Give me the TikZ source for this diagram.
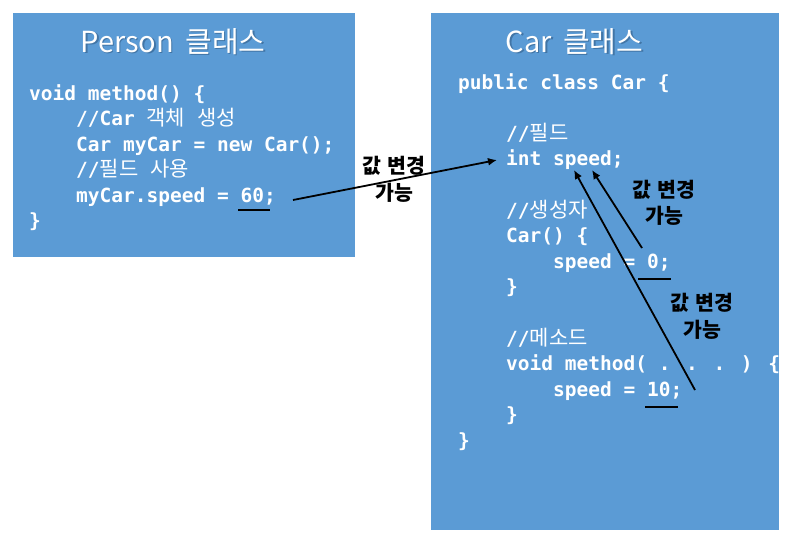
\documentclass[tikz,border=0pt]{standalone}
\usepackage{fontspec}
\usetikzlibrary{arrows.meta}
\newfontfamily\cd{DejaVu Sans Mono}
\newfontfamily\kr{Noto Sans CJK KR}
\newcommand\K[1]{{\kr\mdseries\fontsize{21}{22}\selectfont #1}}
\definecolor{boxblue}{RGB}{91,155,213}
\definecolor{shadowblue}{RGB}{40,80,120}
\tikzset{
  x=1pt, y=-1pt,
  panel/.style={fill=boxblue, draw=none},
  code/.style={anchor=base west, inner sep=0pt, text=white, font=\cd\bfseries\fontsize{19.5}{20}\selectfont},
  title/.style={anchor=base, inner sep=0pt, text=white, font=\kr\fontsize{29}{32}\selectfont},
  titleshadow/.style={anchor=base, inner sep=0pt, text=shadowblue, opacity=0.5, font=\kr\fontsize{29}{32}\selectfont},
  note/.style={anchor=base, inner sep=0pt, text=black, font=\kr\bfseries\fontsize{20.5}{22}\selectfont},
  arrowline/.style={line width=1.8pt, -{Latex[length=9pt,width=8pt]}},
  uline/.style={line width=1.8pt, black}
}
\begin{document}
\begin{tikzpicture}
\useasboundingbox (0,0) rectangle (792,536);
% panels
\path[panel] (13,13) rectangle (355,257);
\path[panel] (431,13) rectangle (779,530);
% titles
\node[titleshadow] at (174.5,53.5) {Person\, 클래스};
\node[title] (t1) at (173,52) {Person\, 클래스};
\node[titleshadow] at (576,53.5) {Car\, 클래스};
\node[title] (t2) at (574.5,52) {Car\, 클래스};
% left code
\node[code] (a1) at (29,100) {void method() \{};
\node[code] (a2) at (76,125.5) {//Car \K{객체} \K{생성}};
\node[code] (a3) at (76,151) {Car myCar = new Car();};
\node[code] (a4) at (76,176.5) {//\K{필드} \K{사용}};
\node[code] (a5) at (76,202) {myCar.speed = 60;};
\node[code] (a6) at (29,227.5) {\}};
% right code
\node[code] (b1) at (458,89) {public class Car \{};
\node[code] (b2) at (506,140) {//\K{필드}};
\node[code] (b3) at (506,165.5) {int speed;};
\node[code] (b4) at (506,217) {//\K{생성자}};
\node[code] (b5) at (506,242.5) {Car() \{};
\node[code] (b6) at (553,268) {speed = 0;};
\node[code] (b7) at (506,293.5) {\}};
\node[code] (b8) at (506,345) {//\K{메소드}};
\node[code] (b9) at (506,370.5) {void method( . . . ) \{};
\node[code] (b10) at (553,396) {speed = 10;};
\node[code] (b11) at (506,421.5) {\}};
\node[code] (b12) at (458,447) {\}};
% underlines
\coordinate (u1a) at (238,210); \coordinate (u1b) at (270,210);
\coordinate (u2a) at (638,279); \coordinate (u2b) at (671,279);
\coordinate (u3a) at (645,407); \coordinate (u3b) at (678,407);
\draw[uline] (u1a) -- (u1b);
\draw[uline] (u2a) -- (u2b);
\draw[uline] (u3a) -- (u3b);
% notes
\node[note] (n1a) at (394,173) {값\,\,변경};
\node[note] (n1b) at (394,200) {가능};
\node[note] (n2a) at (664,197) {값\,\,변경};
\node[note] (n2b) at (664,223) {가능};
\node[note] (n3a) at (702,310) {값\,\,변경};
\node[note] (n3b) at (702,337) {가능};
% arrows
\coordinate (s1) at (293,200); \coordinate (e1) at (497,160);
\coordinate (s2) at (642,248); \coordinate (e2) at (592,170);
\coordinate (s3) at (695,390); \coordinate (e3) at (574,170);
\draw[arrowline] (s1) -- (e1);
\draw[arrowline] (s2) -- (e2);
\draw[arrowline] (s3) -- (e3);
\end{tikzpicture}
\end{document}
